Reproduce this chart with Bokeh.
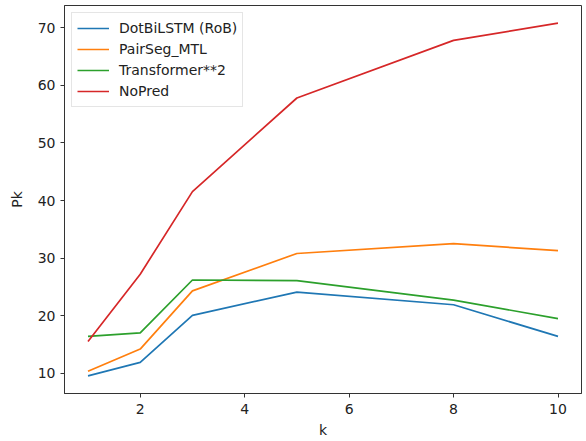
from bokeh.plotting import figure
from bokeh.models import Range1d, Legend, LegendItem, FixedTicker
from bokeh.embed import file_html
from bokeh.resources import INLINE

k = [1, 2, 3, 5, 8, 10]
dotbilstm = [9.55, 11.9, 20.05, 24.1, 21.9, 16.4]
pairseg = [10.35, 14.2, 24.3, 30.8, 32.5, 31.3]
transformer2 = [16.4, 17.0, 26.2, 26.1, 22.7, 19.5]
nopred = [15.5, 27.2, 41.55, 57.8, 67.8, 70.8]

series = [
    ("DotBiLSTM (RoB)", dotbilstm, "#1f77b4"),
    ("PairSeg_MTL", pairseg, "#ff7f0e"),
    ("Transformer**2", transformer2, "#2ca02c"),
    ("NoPred", nopred, "#d62728"),
]

xmin, xmax = min(k), max(k)
allv = dotbilstm + pairseg + transformer2 + nopred
ymin, ymax = min(allv), max(allv)
xpad = (xmax - xmin) * 0.05
ypad = (ymax - ymin) * 0.05

FONT = "DejaVu Sans"

p = figure(width=586, height=441, output_backend="svg", toolbar_location=None,
           x_range=Range1d(xmin - xpad, xmax + xpad),
           y_range=Range1d(ymin - ypad, ymax + ypad),
           min_border_left=64, min_border_right=5, min_border_top=5, min_border_bottom=48)

items = []
for name, vals, col in series:
    r = p.line(k, vals, line_color=col, line_width=1.7)
    items.append(LegendItem(label=name, renderers=[r]))

p.xgrid.visible = False
p.ygrid.visible = False
p.outline_line_color = "#333333"
p.outline_line_width = 1
p.background_fill_color = "white"
p.border_fill_color = "white"

p.xaxis.ticker = FixedTicker(ticks=[2, 4, 6, 8, 10])
p.yaxis.ticker = FixedTicker(ticks=[10, 20, 30, 40, 50, 60, 70])
p.xaxis.axis_label = "k"
p.yaxis.axis_label = "Pk"
for ax in (p.xaxis, p.yaxis):
    ax.axis_line_color = "#333333"
    ax.major_tick_line_color = "#333333"
    ax.major_tick_out = 4
    ax.major_tick_in = 0
    ax.minor_tick_line_color = None
    ax.major_label_text_font = FONT
    ax.major_label_text_font_size = "14px"
    ax.major_label_text_color = "#222222"
    ax.axis_label_text_font = FONT
    ax.axis_label_text_font_size = "14px"
    ax.axis_label_text_font_style = "normal"
    ax.axis_label_text_color = "#222222"
p.xaxis.major_label_standoff = 6
p.yaxis.major_label_standoff = 5
p.xaxis.axis_label_standoff = 5
p.yaxis.axis_label_standoff = 10

legend = Legend(items=items, location="top_left")
legend.margin = 7
legend.padding = 5
legend.spacing = 1
legend.glyph_width = 32
legend.glyph_height = 20
legend.label_standoff = 10
legend.label_text_font = FONT
legend.label_text_font_size = "14px"
legend.label_text_color = "#222222"
legend.border_line_color = "#cccccc"
legend.border_line_width = 1
legend.background_fill_alpha = 0.8
p.add_layout(legend)

open("out.html", "w").write(file_html(p, INLINE))
